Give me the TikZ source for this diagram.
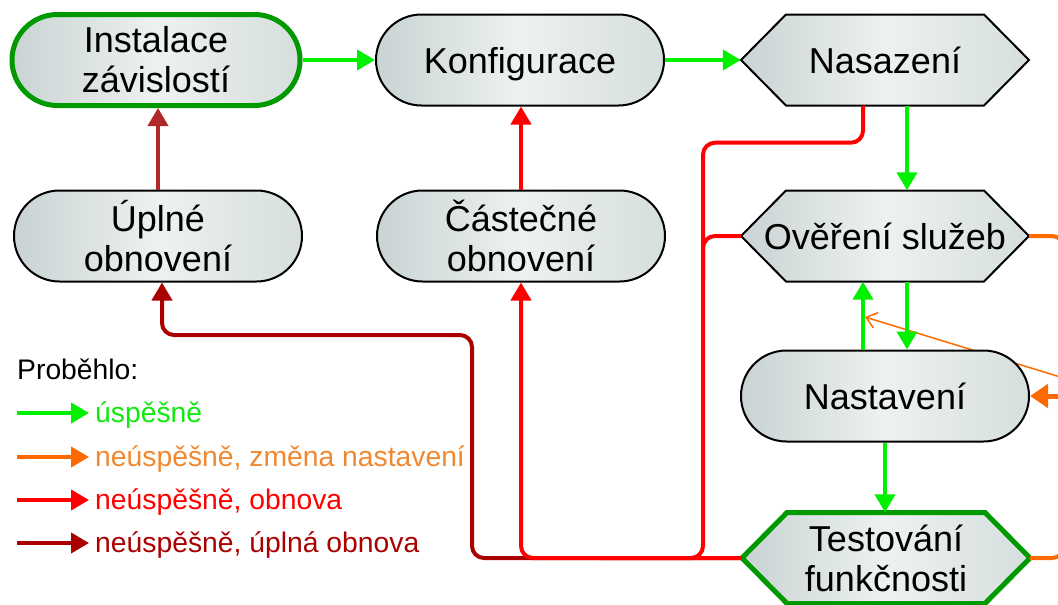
\documentclass[tikz,border=0pt]{standalone}
\usepackage{fontspec}
\setmainfont{Liberation Sans}
\usetikzlibrary{arrows.meta,calc}
\definecolor{gok}{HTML}{00F000}
\definecolor{gtx}{HTML}{10E810}
\definecolor{orng}{HTML}{FF6A00}
\definecolor{orgtxt}{HTML}{F08830}
\definecolor{rd}{HTML}{FF0000}
\definecolor{drd}{HTML}{AA0000}
\definecolor{brn}{HTML}{B22828}
\definecolor{gbrd}{HTML}{009900}
\definecolor{ngl}{HTML}{C9D3D3}
\definecolor{ngm}{HTML}{EDF1F1}
\definecolor{ngr}{HTML}{D6DEDE}
\newcommand{\diagfont}{\fontsize{36}{40}\selectfont}
\newcommand{\legfont}{\fontsize{28.3}{32}\selectfont}
\newcommand{\hexshape}[3]{%
  \path[#3] (#1-144,#2) -- (#1-99,#2-45.5) -- (#1+99,#2-45.5) -- (#1+144,#2) -- (#1+99,#2+45.5) -- (#1-99,#2+45.5) -- cycle;}
\begin{document}
\begin{tikzpicture}[x=1pt,y=-1pt,
  every node/.style={inner sep=0pt},
  nodebase/.style={shade, left color=ngl, right color=ngr, middle color=ngm, align=center, font=\diagfont, minimum width=288pt, minimum height=91pt},
  stad/.style={nodebase, draw=black, line width=2pt, rounded corners=45.5pt},
  stadg/.style={stad, draw=gbrd, line width=5pt},
  hexfill/.style={shade, left color=ngl, right color=ngr, middle color=ngm, draw=black, line width=2pt, line join=miter},
  hexfillg/.style={hexfill, draw=gbrd, line width=5pt},
  hexlbl/.style={align=center, font=\diagfont, minimum width=288pt, minimum height=91pt},
  tipT/.style={-{Triangle[length=18pt,width=20pt]}},
  okar/.style={draw=gok, line width=4pt, tipT},
  redl/.style={draw=rd, line width=4pt, rounded corners=12pt},
  drdl/.style={draw=drd, line width=4pt, rounded corners=12pt},
  orl/.style={draw=orng, line width=4pt, rounded corners=12pt},
  legtxt/.style={anchor=base west, font=\legfont},
]
\useasboundingbox (0,0) rectangle (1058,605);
\clip (0,0) rectangle (1058,605);

% thin orange line (behind nodes)
\coordinate (thA) at (1070,380);
\coordinate (thB) at (865,317);
\draw[draw=orng, line width=1.5pt, -{Straight Barb[length=10pt,width=16pt]}] (thA) -- (thB);

% stadium nodes
\node[stadg] (inst) at (156,60) {Instalace\\závislostí};
\node[stad, text depth=0pt] (konf) at (520,60) {Konfigurace};
\node[stad] (upl) at (158,236) {Úplné\\obnovení};
\node[stad] (cast) at (521,236) {Částečné\\obnovení};
\node[stad] (nast) at (885,396) {Nastavení};

% hexagon nodes
\hexshape{885}{60}{hexfill}
\node[hexlbl] (nas) at (885,60) {Nasazení};
\hexshape{885}{236}{hexfill}
\node[hexlbl] (ov) at (885,236) {Ověření služeb};
\hexshape{886}{558}{hexfillg}
\node[hexlbl] (test) at (886,558) {Testování\\funkčnosti};

% green connectors
\draw[okar] (inst) -- (konf);
\draw[okar] (konf) -- (nas);
\draw[okar] ([xshift=22pt]nas.south) -- ([xshift=22pt]ov.north);
\draw[okar] ([xshift=22pt]ov.south) -- ([xshift=22pt]nast.north);
\draw[okar] ([xshift=-22pt]nast.north) -- ([xshift=-22pt]ov.south);
\draw[okar] (nast.south) -- (nast.south |- test.north);

% restore arrows
\draw[draw=brn, line width=4pt, tipT] (upl.north) -- (upl.north |- inst.south);
\draw[draw=rd, line width=4pt, tipT] (cast.north) -- (cast.north |- konf.south);

% dark red path
\coordinate (d1) at (472,558);
\coordinate (d2) at (472,335);
\coordinate (d3) at (162,335);
\draw[drdl, tipT] (test.west) -- (d1) -- (d2) -- (d3) -- ([xshift=4pt]upl.south);

% red paths
\coordinate (r1) at (703,558);
\coordinate (r2) at (600,558);
\coordinate (r3) at (703,236);
\coordinate (r4) at (703,280);
\draw[redl] ([xshift=-22pt]nas.south) -- ++(0,37) -| (r1) -- (r2);
\draw[redl] (ov.west) -- (r3) -- (r4);
\draw[redl, tipT] (test.west) -| (cast.south);

% orange paths (leaving right edge)
\coordinate (o1) at (1064,236);
\coordinate (o2) at (1064,300);
\coordinate (o3) at (1064,558);
\coordinate (o4) at (1064,500);
\coordinate (o5) at (1075,396);
\draw[orl] (ov.east) -- (o1) -- (o2);
\draw[orl] (test.east) -- (o3) -- (o4);
\draw[draw=orng, line width=5pt, -{Triangle[length=18pt,width=23pt]}] (o5) -- (nast.east);

% legend
\node[legtxt] (leg) at (17,379) {Proběhlo:};
\coordinate (la1) at (17,413); \coordinate (lb1) at (89,413);
\coordinate (la2) at (17,457); \coordinate (lb2) at (89,457);
\coordinate (la3) at (17,500); \coordinate (lb3) at (89,500);
\coordinate (la4) at (17,543); \coordinate (lb4) at (89,543);
\draw[okar] (la1) -- (lb1);
\draw[draw=orng, line width=4pt, tipT] (la2) -- (lb2);
\draw[draw=rd, line width=4pt, tipT] (la3) -- (lb3);
\draw[draw=drd, line width=4pt, tipT] (la4) -- (lb4);
\node[legtxt, text=gtx] (t1) at (95,422.5) {úspěšně};
\node[legtxt, text=orgtxt] (t2) at (95,466.5) {neúspěšně, změna nastavení};
\node[legtxt, text=rd] (t3) at (95,509.5) {neúspěšně, obnova};
\node[legtxt, text=drd] (t4) at (95,552.5) {neúspěšně, úplná obnova};
\end{tikzpicture}
\end{document}
